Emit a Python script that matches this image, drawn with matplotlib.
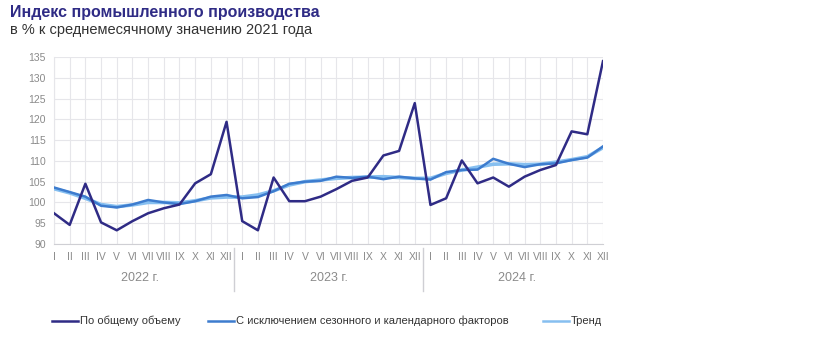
import numpy as np
import matplotlib
matplotlib.use("Agg")
import matplotlib.pyplot as plt

plt.rcParams['font.family'] = ['Liberation Sans', 'DejaVu Sans']

months = ["I", "II", "III", "IV", "V", "VI", "VII", "VIII", "IX", "X", "XI", "XII"]
years = ["2022 г.", "2023 г.", "2024 г."]

total = [97.4, 94.6, 104.5, 95.2, 93.3, 95.5, 97.4, 98.6, 99.5, 104.6, 106.8, 119.4,
         95.5, 93.3, 106.0, 100.3, 100.3, 101.4, 103.2, 105.2, 106.0, 111.3, 112.4, 123.9,
         99.4, 101.0, 110.1, 104.6, 106.0, 103.8, 106.2, 107.8, 109.0, 117.1, 116.4, 134.0]
seas_adj = [103.6, 102.5, 101.4, 99.2, 98.8, 99.5, 100.6, 100.0, 99.6, 100.3, 101.4, 101.8,
            101.0, 101.3, 102.7, 104.5, 105.0, 105.2, 106.2, 105.9, 106.2, 105.6, 106.2, 105.8,
            105.5, 107.3, 107.8, 107.9, 110.5, 109.3, 108.5, 109.2, 109.4, 110.2, 110.8, 113.5]
trend = [103.3, 102.3, 101.0, 99.5, 99.0, 99.4, 100.0, 100.0, 99.9, 100.4, 101.1, 101.3,
         101.3, 101.8, 102.8, 104.2, 105.0, 105.4, 105.8, 106.0, 106.1, 106.2, 106.0, 105.8,
         105.8, 107.0, 107.8, 108.5, 109.2, 109.3, 109.1, 109.2, 109.7, 110.3, 111.0, 113.2]

c_total = "#2f2b85"
c_sa = "#3d7cce"
c_trend = "#86bff0"

fig = plt.figure(figsize=(8.2, 3.6), dpi=100)
ax = fig.add_axes([54 / 820, 116 / 360, 549 / 820, 187 / 360])

x = np.arange(len(total))
ax.plot(x, trend, color=c_trend, lw=2.6, solid_capstyle='round', zorder=3)
ax.plot(x, seas_adj, color=c_sa, lw=1.8, zorder=4)
ax.plot(x, total, color=c_total, lw=1.8, zorder=5)

ax.set_xlim(0, len(total) - 1)
ax.set_ylim(90, 135)
ax.set_yticks(np.arange(90, 136, 5))
ax.set_xticks(x)
ax.set_xticklabels(months * len(years))
ax.grid(True, color="#e6e6ea", lw=0.8)
for s in ["top", "right"]:
    ax.spines[s].set_visible(False)
ax.spines["left"].set_color("#e6e6ea")
ax.spines["bottom"].set_color("#cfcfd4")
ax.tick_params(length=0, labelsize=7.5, labelcolor="#8a8a8a", pad=6)
ax.tick_params(axis='x', labelsize=7.5)

# year labels and separators
for i, yr in enumerate(years):
    ax.text(i * 12 + 5.5, -0.18, yr, transform=ax.get_xaxis_transform(),
            ha="center", va="center", fontsize=9, color="#8a8a8a")
    if i > 0:
        ax.plot([i * 12 - 0.5] * 2, [-0.02, -0.25], transform=ax.get_xaxis_transform(),
                color="#cfcfd4", lw=1, clip_on=False)

fig.text(10 / 820, 1 - 12 / 360, "Индекс промышленного производства", fontsize=11.5,
         fontweight="bold", color="#2f2b85", va="center")
fig.text(10 / 820, 1 - 30 / 360, "в % к среднемесячному значению 2021 года", fontsize=10.5,
         color="#333333", va="center")

# legend
legend_items = [("По общему объему", c_total, 52),
                ("С исключением сезонного и календарного факторов", c_sa, 208),
                ("Тренд", c_trend, 543)]
for label, col, px in legend_items:
    fig.add_artist(plt.Line2D([px / 820, (px + 26) / 820], [1 - 321 / 360] * 2,
                              color=col, lw=1.8))
    fig.text((px + 28) / 820, 1 - 321 / 360, label, fontsize=8, color="#333333",
             va="center")

fig.savefig("out.png", dpi=100)
